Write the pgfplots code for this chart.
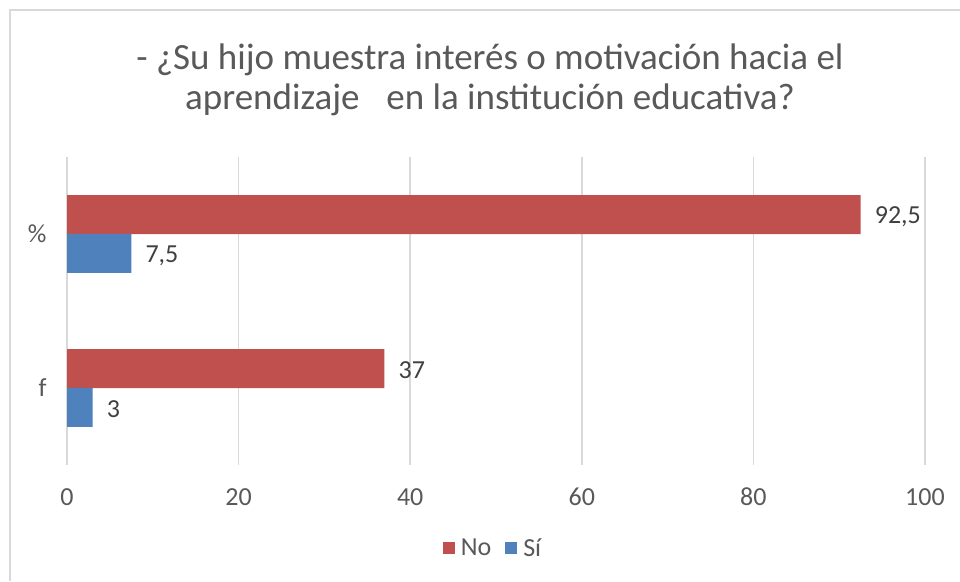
\documentclass[border=0pt]{standalone}
\usepackage{fontspec}
\setmainfont{Carlito}
\usepackage{pgfplots}
\pgfplotsset{compat=1.18}
\definecolor{cred}{HTML}{C0504D}
\definecolor{cblue}{HTML}{4F81BD}
\definecolor{cgrid}{HTML}{D9D9D9}
\definecolor{ctext}{HTML}{595959}
\definecolor{clabel}{HTML}{404040}
\begin{document}
\begin{tikzpicture}
\useasboundingbox (0pt,0pt) rectangle (960pt,581pt);
\fill[white] (0pt,0pt) rectangle (960pt,581pt);
\draw[cgrid, line width=1.5pt] (10pt,0pt) -- (10pt,571pt) -- (960pt,571pt);
\node[anchor=base, text=ctext, font=\fontsize{37}{44}\selectfont, inner sep=0pt] at (490pt,511pt) {- ¿Su hijo muestra interés o motivación hacia el};
\node[anchor=base, text=ctext, font=\fontsize{37}{44}\selectfont, inner sep=0pt] at (490pt,471pt) {aprendizaje\hspace{0.5em} en la institución educativa?};
\begin{axis}[
  at={(67pt,116pt)}, anchor=south west,
  scale only axis, width=858pt, height=308pt,
  xmin=0, xmax=100, ymin=-0.5, ymax=1.5,
  xtick={0,20,40,60,80,100},
  ytick={0,1}, yticklabels={f,\%},
  xmajorgrids, grid style={cgrid, line width=1.5pt},
  axis line style={draw=none},
  major tick style={draw=none},
  /pgf/number format/assume math mode=true,
  /pgf/number format/use comma,
  xticklabel style={font=\fontsize{26}{31}\selectfont, text=ctext, inner sep=0pt, yshift=-23pt},
  yticklabel style={font=\fontsize{26}{31}\selectfont, text=ctext, inner sep=0pt, xshift=-16pt},
  xbar, bar width=39pt, bar shift=0pt,
  nodes near coords,
  nodes near coords align={horizontal},
  every node near coord/.append style={font=\fontsize{26}{31}\selectfont, text=clabel, anchor=west, inner sep=0pt, xshift=14pt, yshift=-2pt},
  legend columns=2,
  legend style={at={(0.4965,-0.2695)}, anchor=center, draw=none, fill=none,
    font=\fontsize{26}{31}\selectfont, text=ctext,
    /tikz/every odd column/.append style={column sep=4pt},
    /tikz/every even column/.append style={column sep=12pt}},
  legend image code/.code={\fill[#1] (0pt,-6pt) rectangle (12pt,6pt);},
]
\addplot[fill=cred, draw=none, point meta=x] coordinates {(37,0.1266) (92.5,1.1266)};
\addlegendentry{No}
\addplot[fill=cblue, draw=none, point meta=x] coordinates {(3,-0.1266) (7.5,0.8734)};
\addlegendentry{Sí}
\end{axis}
\end{tikzpicture}
\end{document}
